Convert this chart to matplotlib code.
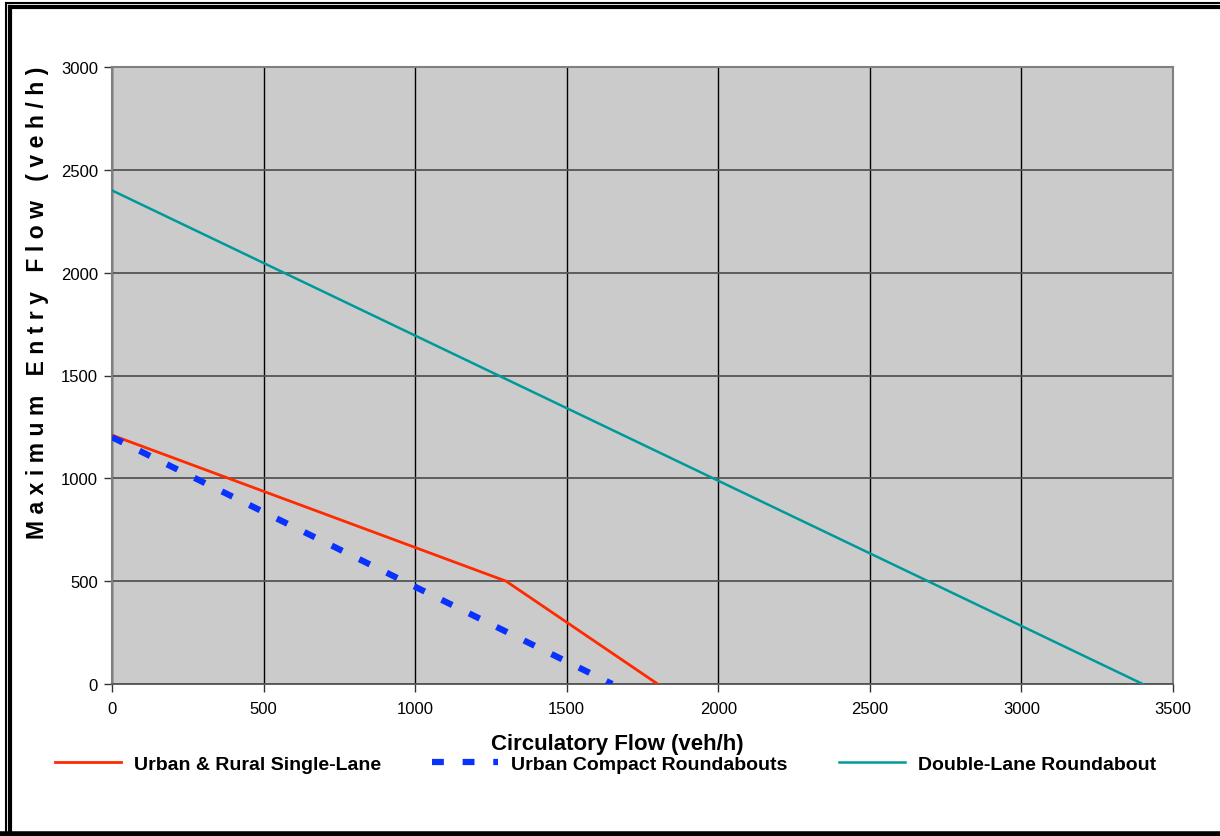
import matplotlib
matplotlib.use("Agg")
import matplotlib.pyplot as plt
from matplotlib.lines import Line2D

plt.rcParams['font.family'] = ['Liberation Sans', 'DejaVu Sans']

# circulatory flow (veh/h) vs maximum entry flow (veh/h)
single_x = [0, 1300, 1800]
single_y = [1210, 500, 0]
compact_x = [0, 1650]
compact_y = [1200, 0]
double_x = [0, 3400]
double_y = [2400, 0]

labels = ['Urban & Rural Single-Lane', 'Urban Compact Roundabouts', 'Double-Lane Roundabout']
xticks = [0, 500, 1000, 1500, 2000, 2500, 3000, 3500]
yticks = [0, 500, 1000, 1500, 2000, 2500, 3000]

W, H = 1220, 837
fig = plt.figure(figsize=(W / 100, H / 100), dpi=100)
ax = fig.add_axes([112 / W, 1 - 685 / H, (1173 - 112) / W, (685 - 68) / H])
ax.set_facecolor('#cbcbcb')

l1, = ax.plot(single_x, single_y, color='#ff2a00', lw=2, zorder=3)
l2, = ax.plot(compact_x, compact_y, color='#0a32ff', lw=4.5, dashes=(1.9, 3.0), zorder=3)
l3, = ax.plot(double_x, double_y, color='#00999a', lw=1.8, zorder=3)

ax.set_xlim(0, 3500)
ax.set_ylim(0, 3000)
ax.set_xticks(xticks)
ax.set_yticks(yticks)
ax.xaxis.grid(True, color='black', lw=1)
ax.yaxis.grid(True, color='#555555', lw=1.3)
ax.set_axisbelow(True)
for s in ['left', 'right', 'top']:
    ax.spines[s].set_color('#808080')
    ax.spines[s].set_linewidth(1.5)
ax.spines['bottom'].set_color('#555555')
ax.spines['bottom'].set_linewidth(1.3)
ax.tick_params(axis='both', labelsize=12, length=6, width=1, colors='#333333', labelcolor='black')
ax.tick_params(axis='x', pad=6)
ax.tick_params(axis='y', pad=4)

fig.text(617 / W, 1 - 745 / H, 'Circulatory Flow (veh/h)', ha='center', va='center',
         fontsize=16, fontweight='bold')
ylab = '\u2009\u200a'.join('Maximum Entry Flow (veh/h)')
fig.text(38 / W, 1 - 303 / H, ylab, rotation=90, ha='center', va='center',
         fontsize=16.5, fontweight='bold')

fig.legend([l1, l2, l3], labels, loc='center left', bbox_to_anchor=(37 / W, 1 - 765 / H),
           ncol=3, frameon=False, prop={'weight': 'bold', 'size': 14},
           handlelength=3.4, handletextpad=0.67, columnspacing=2.65)

# double frame around the figure
fig.add_artist(Line2D([5.5 / W, 5.5 / W], [0, 1 - 4 / H], transform=fig.transFigure, color='black', lw=1.5))
fig.add_artist(Line2D([10 / W, 10 / W], [0, 1 - 8 / H], transform=fig.transFigure, color='black', lw=3))
fig.add_artist(Line2D([5.5 / W, 1], [1 - 4 / H, 1 - 4 / H], transform=fig.transFigure, color='black', lw=1.5))
fig.add_artist(Line2D([10 / W, 1], [1 - 8 / H, 1 - 8 / H], transform=fig.transFigure, color='black', lw=3))
fig.add_artist(Line2D([0, 1], [2.5 / H, 2.5 / H], transform=fig.transFigure, color='black', lw=4))

fig.savefig('out.png', dpi=100)
